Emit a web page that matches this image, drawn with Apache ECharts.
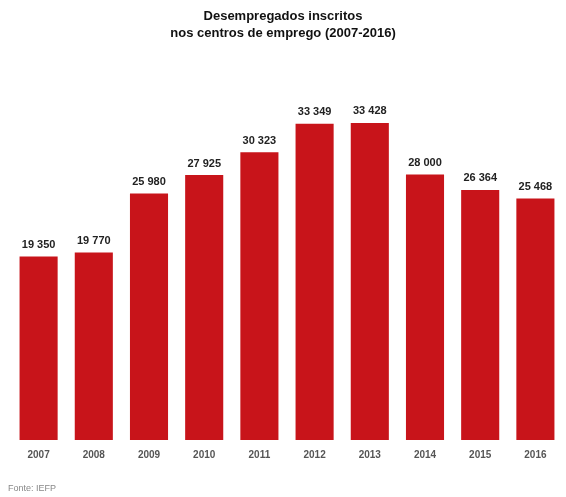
<!DOCTYPE html>
<html>
<head>
<meta charset="utf-8">
<script src="https://cdn.jsdelivr.net/npm/echarts@6/dist/echarts.min.js"></script>
<style>
  html, body { margin: 0; padding: 0; background: #fff; }
  #chart { width: 566px; height: 497px; }
</style>
</head>
<body>
<div id="chart"></div>
<script>
// dados
var anos = ['2007', '2008', '2009', '2010', '2011', '2012', '2013', '2014', '2015', '2016'];
var inscritos = [19350, 19770, 25980, 27925, 30323, 33349, 33428, 28000, 26364, 25468];

function fmt(v) {
    return String(v).replace(/\B(?=(\d{3})+(?!\d))/g, ' ');
}

var chart = echarts.init(document.getElementById('chart'));

var option = {
    backgroundColor: '#fff',
    animation: false,
    title: {
        text: 'Desempregados inscritos\nnos centros de emprego (2007-2016)',
        left: 'center',
        top: 3,
        textStyle: {
            fontFamily: 'Liberation Sans',
            fontSize: 13,
            fontWeight: 'bold',
            color: '#111',
            lineHeight: 17
        }
    },
    graphic: [{
        type: 'text',
        left: 8,
        top: 484,
        style: {
            text: 'Fonte: IEFP',
            fontFamily: 'Liberation Sans',
            fontSize: 9,
            fill: '#888'
        }
    }],
    grid: {
        left: 11,
        right: 3,
        top: 108,
        bottom: 57
    },
    xAxis: {
        type: 'category',
        data: anos,
        axisLine: { show: false },
        axisTick: { show: false },
        axisLabel: {
            margin: 10,
            fontFamily: 'Liberation Sans',
            fontSize: 10,
            fontWeight: 'bold',
            color: '#555'
        }
    },
    yAxis: {
        type: 'value',
        min: 0,
        max: 35000,
        show: false,
        splitLine: { show: false }
    },
    series: [{
        type: 'bar',
        data: inscritos,
        barWidth: '69%',
        itemStyle: { color: '#c8141a' },
        label: {
            show: true,
            position: 'top',
            distance: 6,
            fontFamily: 'Liberation Sans',
            fontSize: 11,
            fontWeight: 'bold',
            color: '#222',
            formatter: function (p) { return fmt(p.value); }
        }
    }]
};

chart.setOption(option);
</script>
</body>
</html>
